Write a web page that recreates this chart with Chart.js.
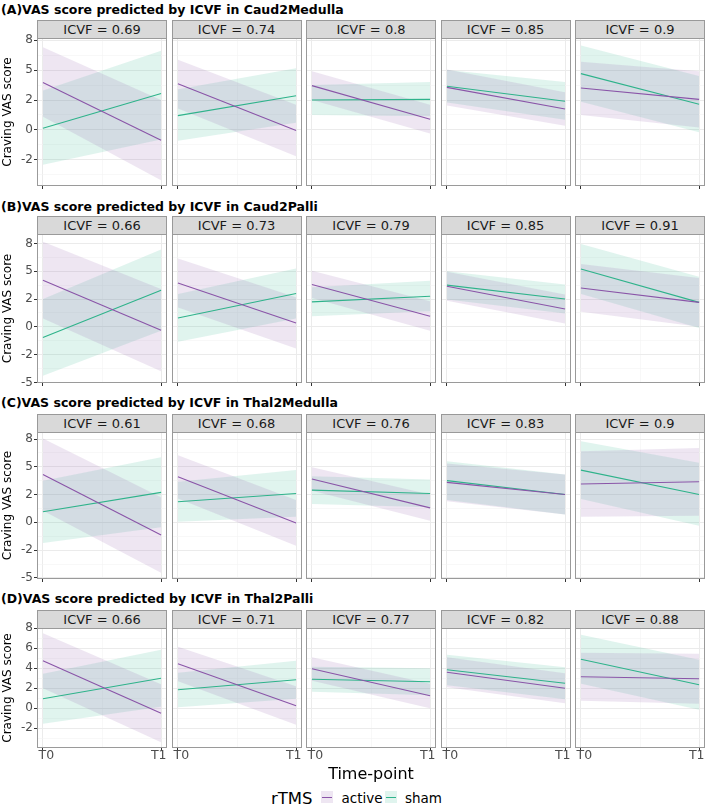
<!DOCTYPE html>
<html>
<head>
<meta charset="utf-8">
<script src="https://cdn.jsdelivr.net/npm/chart.js@4.4.0/dist/chart.umd.min.js"></script>
<style>
body { margin: 0; background: #fff; font-family: "DejaVu Sans", sans-serif; }
#wrap { position: relative; width: 709px; height: 810px; overflow: hidden; }
.title { position: absolute; left: 1px; font-weight: bold; font-size: 12.5px; color: #000; white-space: nowrap; line-height: 15px; }
.strip { position: absolute; box-sizing: border-box; background: #d9d9d9; border: 1px solid #999; font-size: 13px; color: #1a1a1a; text-align: center; line-height: 17px; }
canvas { position: absolute; }
.txt { position: absolute; white-space: nowrap; color: #000; line-height: 1; }
.key { position: absolute; width: 12px; height: 12px; }
.key div { position: absolute; left: 1px; right: 1px; top: 5.5px; height: 1.2px; }
</style>
</head>
<body>
<div id="wrap"></div>
<script>
// ---- data ----
const rowTitles = [
  '(A)VAS score predicted by ICVF in Caud2Medulla',
  '(B)VAS score predicted by ICVF in Caud2Palli',
  '(C)VAS score predicted by ICVF in Thal2Medulla',
  '(D)VAS score predicted by ICVF in Thal2Palli'
];
const icvf = [
  [0.69, 0.74, 0.8, 0.85, 0.9],
  [0.66, 0.73, 0.79, 0.85, 0.91],
  [0.61, 0.68, 0.76, 0.83, 0.9],
  [0.66, 0.71, 0.77, 0.82, 0.88]
];
const timePoints = ['T0', 'T1'];
const series = ['active', 'sham'];

// [row][panel] = [T0, T1]
const activeFit = [
  [[3.95, -0.85], [3.85, -0.05], [3.7, 0.9], [3.55, 1.75], [3.5, 2.55]],
  [[4.2, -0.3], [3.95, 0.35], [3.8, 0.95], [3.65, 1.6], [3.5, 2.2]],
  [[4.3, -1.15], [4.1, -0.05], [3.9, 1.3], [3.6, 2.5], [3.45, 3.65]],
  [[4.75, -0.5], [4.45, 0.25], [3.95, 1.25], [3.6, 2.0], [3.15, 2.95]]
];
const activeLow = [
  [[1.1, -4.2], [1.8, -2.2], [2.5, -0.3], [2.05, 0.35], [1.25, 0.2]],
  [[0.75, -4.0], [1.75, -1.95], [2.6, -0.35], [2.35, 0.3], [1.35, 0.0]],
  [[1.05, -4.55], [2.15, -2.1], [2.85, 0.15], [1.9, 0.7], [0.5, 0.6]],
  [[2.0, -3.4], [2.7, -1.65], [2.75, 0.0], [2.1, 0.5], [0.75, 0.45]]
];
const activeHigh = [
  [[6.9, 2.5], [5.85, 2.1], [4.9, 2.1], [5.05, 3.15], [5.7, 4.9]],
  [[7.65, 3.4], [6.15, 2.65], [5.05, 2.3], [4.95, 2.9], [5.65, 4.4]],
  [[7.55, 2.25], [6.05, 2.0], [4.95, 2.5], [5.3, 4.3], [6.4, 6.7]],
  [[7.5, 2.4], [6.15, 2.2], [5.1, 2.45], [5.1, 3.5], [5.55, 5.45]]
];
const shamFit = [
  [[0.15, 3.05], [1.2, 2.85], [2.5, 2.55], [3.65, 2.4], [4.7, 2.15]],
  [[-0.95, 3.3], [0.8, 3.0], [2.25, 2.75], [3.75, 2.5], [5.2, 2.2]],
  [[0.95, 2.7], [1.85, 2.6], [2.9, 2.6], [3.75, 2.5], [4.7, 2.5]],
  [[0.95, 3.0], [1.85, 2.85], [2.9, 2.65], [3.85, 2.5], [4.9, 2.35]]
];
const shamLow = [
  [[-2.9, -0.8], [-0.9, 0.6], [1.25, 1.15], [2.3, 0.85], [2.35, -0.2]],
  [[-4.4, -0.35], [-1.35, 0.75], [0.95, 1.4], [2.45, 1.2], [2.95, -0.1]],
  [[-1.85, -0.45], [0.05, 0.5], [1.65, 1.35], [2.0, 0.7], [2.1, -0.3]],
  [[-1.55, 0.15], [0.1, 0.95], [1.65, 1.3], [2.3, 0.9], [2.45, -0.15]]
];
const shamHigh = [
  [[3.3, 6.6], [3.4, 5.15], [3.75, 4.0], [5.0, 4.0], [7.05, 4.5]],
  [[2.5, 6.95], [2.95, 5.25], [3.55, 4.15], [5.0, 3.8], [7.45, 4.5]],
  [[3.75, 5.85], [3.65, 4.7], [4.15, 3.85], [5.5, 4.3], [7.3, 5.35]],
  [[3.45, 5.85], [3.55, 4.75], [4.15, 4.0], [5.35, 4.1], [7.35, 4.85]]
];

// y axes per row
const yMin = [-4.67, -5.05, -5.1, -3.97];
const yMax = [7.67, 8.35, 8.13, 8.03];
const yTicks = [
  [-2.5, 0, 2.5, 5, 7.5],
  [-5, -2.5, 0, 2.5, 5, 7.5],
  [-5, -2.5, 0, 2.5, 5, 7.5],
  [-2, 0, 2, 4, 6, 8]
];
const yTickLabels = [
  ['-2', '0', '2', '5', '8'],
  ['-5', '-2', '0', '2', '5', '8'],
  ['-5', '-2', '0', '2', '5', '8'],
  ['-2', '0', '2', '4', '6', '8']
];
const yMinor = [
  [-3.75, -1.25, 1.25, 3.75, 6.25],
  [-3.75, -1.25, 1.25, 3.75, 6.25],
  [-3.75, -1.25, 1.25, 3.75, 6.25],
  [-3, -1, 1, 3, 5, 7]
];
const xTicks = [1, 2];
const xMinor = [1.5];

// ---- layout ----
const panelLeft = [37, 171.5, 306, 440.5, 575];
const panelW = 130;
const panelTop = [38, 234, 432, 628];
const panelBottom = [186, 383, 579, 748];
const titleY = [2, 199, 395, 591];
const yAxisW = 37;
const padTop = 8, padBottom = 6;   // room for first-column tick labels

const colActive = '#8a55a8';
const colSham = '#2fb38b';
const fillActive = 'rgba(138,85,168,0.15)';
const fillSham = 'rgba(47,179,139,0.15)';

Chart.defaults.font.family = '"DejaVu Sans", sans-serif';

const wrap = document.getElementById('wrap');

function addDiv(cls, text, css) {
  const d = document.createElement('div');
  d.className = cls;
  if (text) d.textContent = text;
  Object.assign(d.style, css);
  wrap.appendChild(d);
  return d;
}

const panelBorder = {
  id: 'panelBorder',
  afterDraw(chart) {
    const a = chart.chartArea, c = chart.ctx;
    c.save();
    c.strokeStyle = '#9a9a9a';
    c.lineWidth = 1;
    c.strokeRect(a.left + 0.5, a.top + 0.5, a.right - a.left - 1, a.bottom - a.top - 1);
    c.restore();
  }
};

// T0 / T1 labels sit inside the panel edges, like the ggplot original
const timeLabels = {
  id: 'timeLabels',
  afterDraw(chart, args, opts) {
    if (!opts.show) return;
    const a = chart.chartArea, c = chart.ctx;
    c.save();
    c.fillStyle = '#4d4d4d';
    c.font = '12.5px "DejaVu Sans", sans-serif';
    c.textBaseline = 'alphabetic';
    c.textAlign = 'left';
    c.fillText(timePoints[0], a.left + 1.5, a.bottom + 11);
    c.textAlign = 'right';
    c.fillText(timePoints[1], a.right - 0.5, a.bottom + 11);
    c.restore();
  }
};

function pts(v) {
  return [{x: xTicks[0], y: v[0]}, {x: xTicks[1], y: v[1]}];
}

function makePanel(r, p) {
  const first = p === 0;
  const last = r === 3;
  const xH = 4;
  const extraBottom = last ? 14 : 0;
  const pt = first ? padTop : 0;
  const pb = (first ? padBottom : 0) + extraBottom;
  const ph = panelBottom[r] - panelTop[r];
  const cv = document.createElement('canvas');
  const w = first ? yAxisW + panelW : panelW;
  const h = pt + ph + xH + pb;
  cv.width = w;
  cv.height = h;
  cv.style.left = (first ? panelLeft[0] - yAxisW : panelLeft[p]) + 'px';
  cv.style.top = (panelTop[r] - pt) + 'px';
  cv.style.width = w + 'px';
  cv.style.height = h + 'px';
  wrap.appendChild(cv);

  const isMinorY = v => yMinor[r].includes(v);
  const isMinorX = v => xMinor.includes(v);

  new Chart(cv, {
    type: 'line',
    data: {
      datasets: [
        { data: pts(activeFit[r][p]), borderColor: colActive, borderWidth: 1.1, pointRadius: 0, fill: false },
        { data: pts(shamFit[r][p]), borderColor: colSham, borderWidth: 1.1, pointRadius: 0, fill: false },
        { data: pts(activeLow[r][p]), borderWidth: 0, pointRadius: 0, fill: false },
        { data: pts(activeHigh[r][p]), borderWidth: 0, pointRadius: 0, fill: '-1', backgroundColor: fillActive },
        { data: pts(shamLow[r][p]), borderWidth: 0, pointRadius: 0, fill: false },
        { data: pts(shamHigh[r][p]), borderWidth: 0, pointRadius: 0, fill: '-1', backgroundColor: fillSham }
      ]
    },
    options: {
      responsive: false,
      animation: false,
      devicePixelRatio: 1,
      layout: { padding: { top: pt, bottom: pb, left: 0, right: 0 } },
      plugins: {
        legend: { display: false },
        tooltip: { enabled: false },
        timeLabels: { show: last }
      },
      scales: {
        x: {
          type: 'linear', min: 0.95, max: 2.05,
          afterBuildTicks: s => { s.ticks = xTicks.concat(xMinor).sort().map(v => ({ value: v })); },
          afterFit: s => { s.height = xH; s.paddingLeft = 0; s.paddingRight = 0; },
          border: { display: false },
          grid: {
            color: c => isMinorX(c.tick.value) ? '#f4f4f4' : '#ebebeb',
            lineWidth: c => isMinorX(c.tick.value) ? 0.6 : 1,
            tickColor: c => isMinorX(c.tick.value) ? 'rgba(0,0,0,0)' : '#333',
            tickLength: 3
          },
          ticks: { display: false }
        },
        y: {
          type: 'linear', min: yMin[r], max: yMax[r],
          afterBuildTicks: s => { s.ticks = yTicks[r].concat(yMinor[r]).sort((a, b) => a - b).map(v => ({ value: v })); },
          afterFit: s => { s.width = first ? yAxisW : 0; s.paddingTop = 0; s.paddingBottom = 0; },
          border: { display: false },
          grid: {
            color: c => isMinorY(c.tick.value) ? '#f4f4f4' : '#ebebeb',
            lineWidth: c => isMinorY(c.tick.value) ? 0.6 : 1,
            tickColor: c => isMinorY(c.tick.value) ? 'rgba(0,0,0,0)' : '#333',
            drawTicks: first,
            tickLength: 3
          },
          ticks: {
            display: first,
            autoSkip: false, padding: 1,
            color: '#4d4d4d', font: { size: 12 },
            callback: v => { const i = yTicks[r].indexOf(v); return i >= 0 ? yTickLabels[r][i] : ''; }
          },
          title: {
            display: first,
            text: 'Craving VAS score',
            color: '#000',
            font: { size: 12 },
            padding: { top: 1, bottom: 0 }
          }
        }
      }
    },
    plugins: [panelBorder, timeLabels]
  });
}

for (let r = 0; r < 4; r++) {
  addDiv('title', rowTitles[r], { top: titleY[r] + 'px' });
  for (let p = 0; p < 5; p++) {
    addDiv('strip', 'ICVF = ' + icvf[r][p], {
      left: panelLeft[p] + 'px', top: (panelTop[r] - 18) + 'px',
      width: panelW + 'px', height: '19px'
    });
  }
}
for (let r = 0; r < 4; r++) {
  for (let p = 0; p < 5; p++) makePanel(r, p);
}

// x axis title
addDiv('txt', 'Time-point', { left: '0px', width: '742px', textAlign: 'center', top: '766px', fontSize: '16px' });

// legend
addDiv('txt', 'rTMS', { left: '271px', top: '791px', fontSize: '16.5px' });
const keyX = [321, 384.5];
const textX = [341.5, 405];
const keyCols = [[fillActive, colActive], [fillSham, colSham]];
series.forEach((s, i) => {
  const k = addDiv('key', '', { left: keyX[i] + 'px', top: '791px', background: keyCols[i][0] });
  const ln = document.createElement('div');
  ln.style.background = keyCols[i][1];
  k.appendChild(ln);
  addDiv('txt', s, { left: textX[i] + 'px', top: '792px', fontSize: '13.5px' });
});
</script>
</body>
</html>
